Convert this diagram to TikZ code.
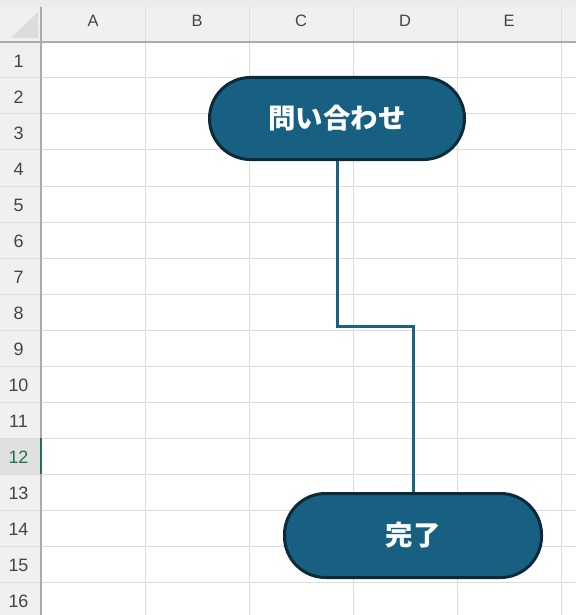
\documentclass[tikz,border=0pt]{standalone}
\usepackage{fontspec}
\setmainfont{Liberation Sans}
\newfontfamily\jpfont{Noto Sans CJK JP}
\definecolor{hdrbg}{HTML}{F0F0F0}
\definecolor{topbg}{HTML}{EBEBF0}
\definecolor{gridc}{HTML}{DCDCDC}
\definecolor{hdrline}{HTML}{ABABAB}
\definecolor{hdrtext}{HTML}{444444}
\definecolor{selbg}{HTML}{E0E0E0}
\definecolor{xlgreen}{HTML}{217346}
\definecolor{shapefill}{HTML}{176082}
\definecolor{shapeedge}{HTML}{0D2A3A}
\definecolor{linkc}{HTML}{1A6182}
\tikzset{
  terminal/.style={draw=shapeedge, line width=3bp, fill=shapefill, rectangle,
    rounded corners=41bp, text=white, inner sep=0pt,
    font=\jpfont\bfseries\fontsize{27.5}{32}\selectfont},
  link/.style={draw=linkc, line width=3bp},
  colhdr/.style={text=hdrtext, font=\fontsize{16.5}{19}\selectfont, inner sep=0pt},
  rowhdr/.style={text=hdrtext, font=\fontsize{18}{21}\selectfont, inner sep=0pt},
}
\begin{document}
\begin{tikzpicture}[x=1bp, y=-1bp]
\useasboundingbox (0,0) rectangle (576,615);
\fill[white] (0,0) rectangle (576,615);
% header backgrounds
\fill[hdrbg] (0,0) rectangle (576,42);
\fill[topbg] (0,0) rectangle (576,7);
\fill[hdrbg] (0,42) rectangle (41,615);
\fill[selbg] (0,438) rectangle (41,474);
% corner triangle
\fill[gridc] (38,12) -- (38,38) -- (11,38) -- cycle;
% grid lines
\foreach \i in {1,...,16} {
  \draw[gridc, line width=1bp] (0,{42+36*\i}) -- (576,{42+36*\i});
}
\foreach \x in {145,249,353,457,561} {
  \draw[gridc, line width=1bp] (\x,7) -- (\x,615);
}
\draw[hdrline, line width=1.2bp] (0,42) -- (576,42);
\draw[hdrline, line width=1.2bp] (41,7) -- (41,615);
\draw[xlgreen, line width=2bp] (41,438) -- (41,474);
% column letters
\foreach \c [count=\k from 0] in {A,B,C,D,E} {
  \node[colhdr] at ({93+104*\k},20.5) {\c};
}
% row numbers
\foreach \r in {1,...,16} {
  \ifnum\r=12
    \node[rowhdr, text=xlgreen] at (18.5,{42+36*(\r-1)+19}) {\r};
  \else
    \node[rowhdr] at (18.5,{42+36*(\r-1)+19}) {\r};
  \fi
}
% shapes
\node[terminal, minimum width=255bp, minimum height=82bp] (ask) at (337,118.5) {問い合わせ};
\node[terminal, minimum width=257bp, minimum height=84bp] (done) at (413,535.5) {完了};
\coordinate (bend) at (337,326.5);
\draw[link] (ask.south) -- (bend) -- (bend -| done.north) -- (done.north);
\end{tikzpicture}
\end{document}
